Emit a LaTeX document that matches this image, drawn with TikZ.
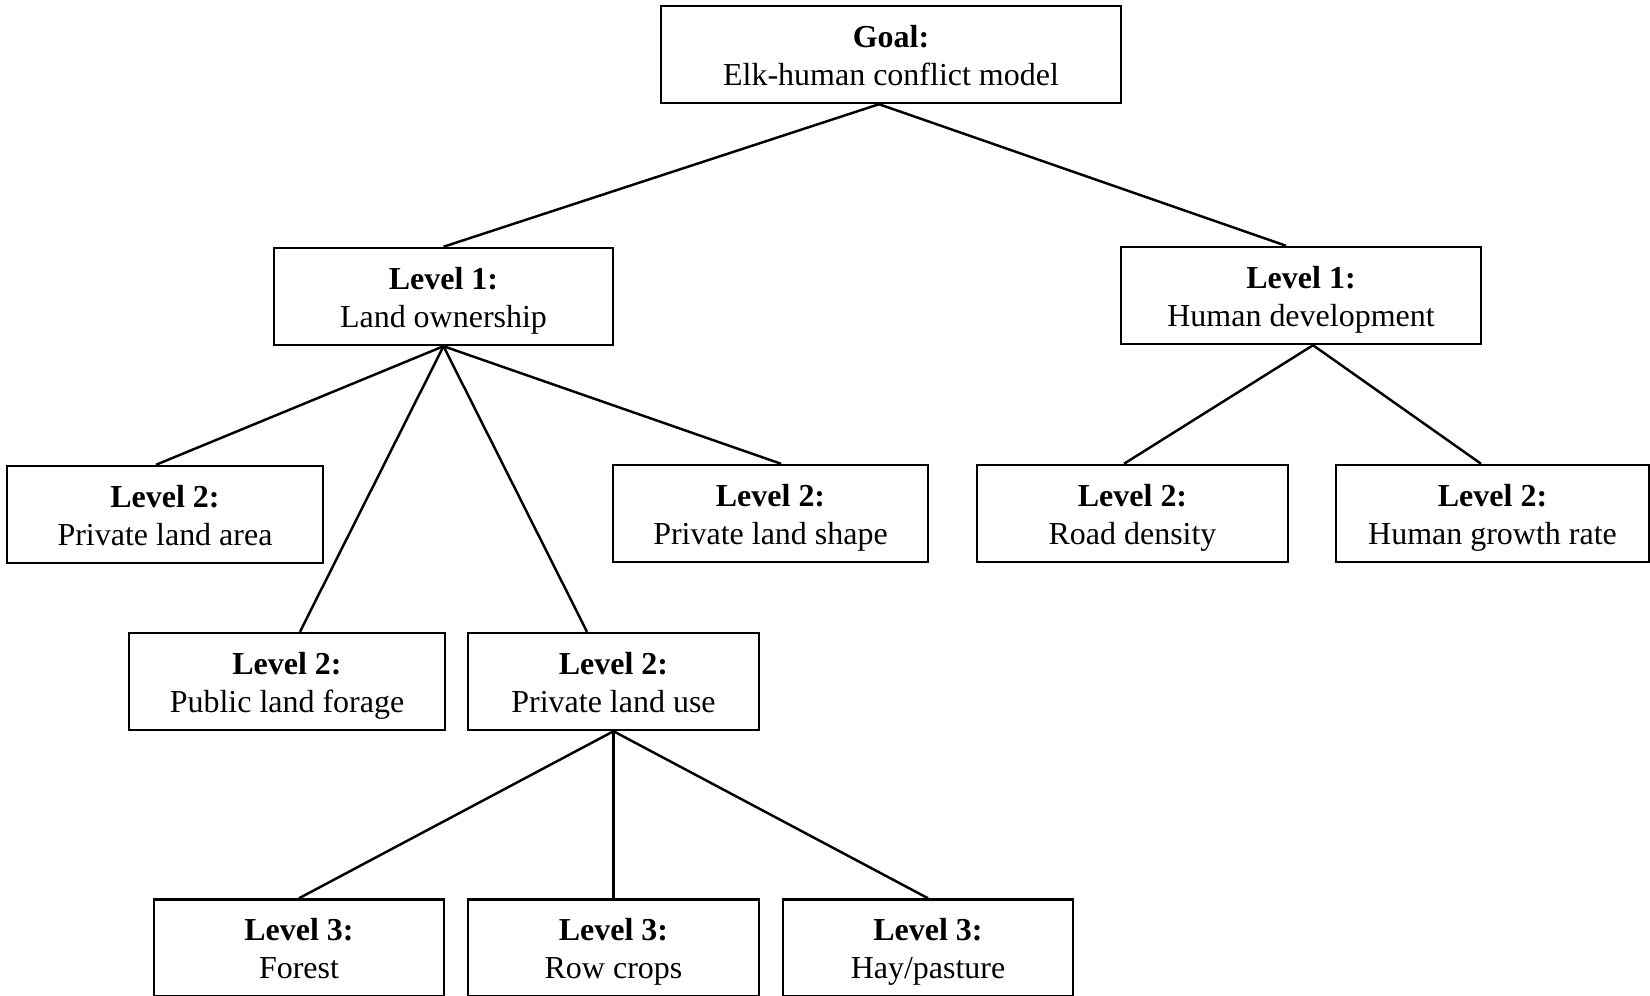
\documentclass[tikz,border=0pt]{standalone}
\usepackage{fontspec}
\setmainfont{Liberation Serif}
\usepackage{tikz}
\usetikzlibrary{positioning,arrows.meta}
\tikzset{
mybox/.style={
  draw=black,
  line width=0.7pt,
  align=center,
  inner sep=0pt,
  minimum height=9.7mm,
  text height=18.4pt,
  text depth=1pt,
  font=\fontsize{9.1}{10.8}\selectfont
  },
myline/.style={line width=0.7pt}
}

\begin{document}
\begin{tikzpicture}[x=0.1mm,y=-0.1mm]
\useasboundingbox (0,0) rectangle (1650,996);

\node[mybox,minimum width=46mm] (goal) at (891,54.5) {\textbf{Goal:}\\Elk-human conflict model};

\node[mybox,minimum width=33.9mm] (own) at (443.5,296.5) {\textbf{Level 1:}\\Land ownership};
\node[mybox,minimum width=36mm] (dev) at (1301,295.5) {\textbf{Level 1:}\\Human development};

\node[mybox,minimum width=31.6mm] (area) at (165,514.5) {\textbf{Level 2:}\\Private land area};
\node[mybox,minimum width=31.5mm] (shape) at (770.5,513.5) {\textbf{Level 2:}\\Private land shape};
\node[mybox,minimum width=31.1mm] (road) at (1132.5,513.5) {\textbf{Level 2:}\\Road density};
\node[mybox,minimum width=31.3mm] (growth) at (1492.5,513.5) {\textbf{Level 2:}\\Human growth rate};

\node[mybox,minimum width=31.6mm] (forage) at (287,681.5) {\textbf{Level 2:}\\Public land forage};
\node[mybox,minimum width=29.1mm] (use) at (613.5,681.5) {\textbf{Level 2:}\\Private land use};

\node[mybox,minimum width=29mm] (forest) at (299,948) {\textbf{Level 3:}\\Forest};
\node[mybox,minimum width=29.1mm] (crops) at (613.5,948) {\textbf{Level 3:}\\Row crops};
\node[mybox,minimum width=29mm] (hay) at (928,948) {\textbf{Level 3:}\\Hay/pasture};

\draw[myline] ([xshift=-1.2mm]goal.south) -- (own.north);
\draw[myline] ([xshift=-1.2mm]goal.south) -- ([xshift=-1.5mm]dev.north);

\draw[myline] (own.south) -- ([xshift=-0.9mm]area.north);
\draw[myline] (own.south) -- ([xshift=1.3mm]forage.north);
\draw[myline] (own.south) -- ([xshift=-2.65mm]use.north);
\draw[myline] (own.south) -- ([xshift=1.05mm]shape.north);

\draw[myline] ([xshift=1.2mm]dev.south) -- ([xshift=-0.85mm]road.north);
\draw[myline] ([xshift=1.2mm]dev.south) -- ([xshift=-1.15mm]growth.north);

\draw[myline] (use.south) -- (forest.north);
\draw[myline] (use.south) -- (crops.north);
\draw[myline] (use.south) -- (hay.north);
\end{tikzpicture}
\end{document}
